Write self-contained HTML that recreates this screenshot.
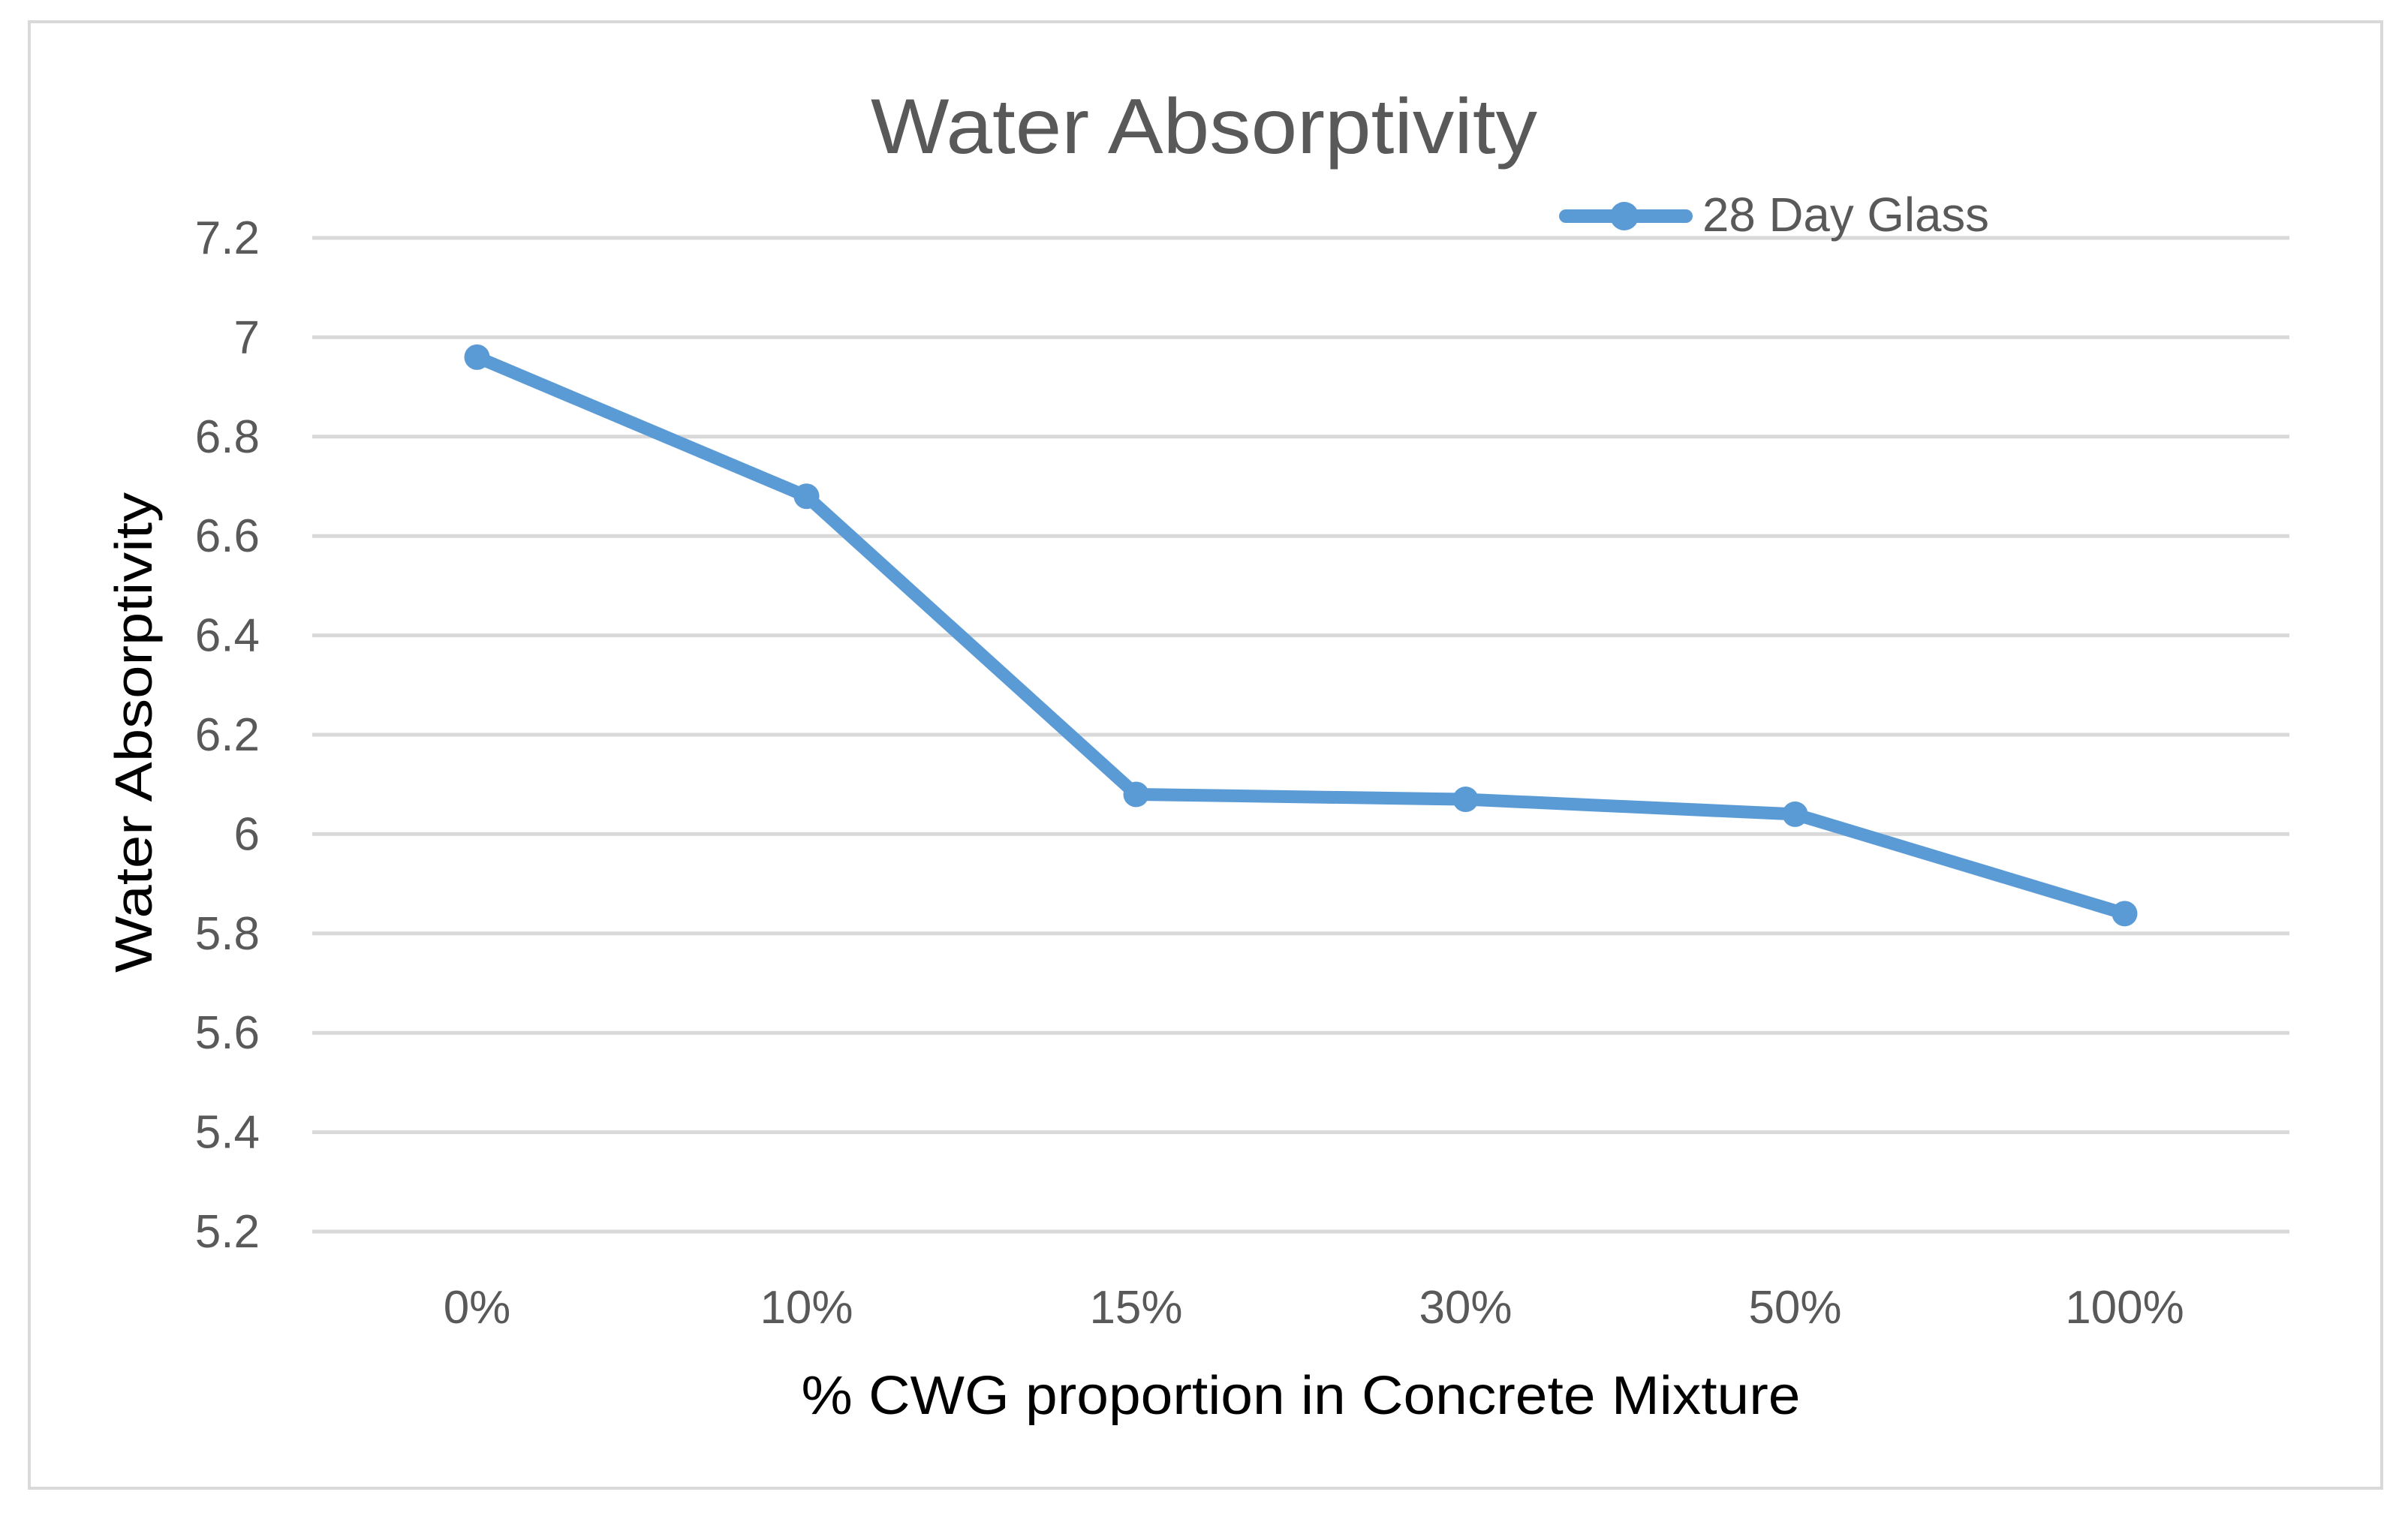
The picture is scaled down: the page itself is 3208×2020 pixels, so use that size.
<!DOCTYPE html>
<html><head><meta charset="utf-8"><style>
html,body{margin:0;padding:0;background:#fff;}
svg{display:block;font-family:"Liberation Sans",sans-serif;}
</style></head><body>
<svg id="chart" width="3208" height="2020" viewBox="0 0 3208 2020" xmlns="http://www.w3.org/2000/svg">
<rect x="39" y="29" width="3134" height="1954" fill="#fff" stroke="#d9d9d9" stroke-width="4"/>
<text x="1604" y="204" text-anchor="middle" font-size="104" fill="#595959" textLength="888" lengthAdjust="spacingAndGlyphs">Water Absorptivity</text>
<g id="grid"></g>
<g id="yticks"></g>
<g id="xticks"></g>
<g id="series"></g>
<text transform="translate(202,976) rotate(-90)" text-anchor="middle" font-size="70" fill="#000" textLength="640" lengthAdjust="spacingAndGlyphs">Water Absorptivity</text>
<text x="1733" y="1884" text-anchor="middle" font-size="72" fill="#000" textLength="1331" lengthAdjust="spacingAndGlyphs">% CWG proportion in Concrete Mixture</text>
<g>
<line x1="2086" y1="288" x2="2246" y2="288" stroke="#5b9bd5" stroke-width="18" stroke-linecap="round"/>
<circle cx="2164" cy="288" r="19" fill="#5b9bd5"/>
<text x="2268" y="308" font-size="64" fill="#595959" textLength="382" lengthAdjust="spacingAndGlyphs">28 Day Glass</text>
</g>
</svg>
<script>
const categories = ["0%","10%","15%","30%","50%","100%"];
const values = [6.96, 6.68, 6.08, 6.07, 6.04, 5.84];
const yTicks = [5.2,5.4,5.6,5.8,6,6.2,6.4,6.6,6.8,7,7.2];
const yTickLabels = ["5.2","5.4","5.6","5.8","6","6.2","6.4","6.6","6.8","7","7.2"];

const NS = "http://www.w3.org/2000/svg";
const plotL = 416, plotR = 3050, plotT = 317, plotB = 1641;
const yMin = 5.2, yMax = 7.2;
function yScale(v){ return plotB - (v - yMin) / (yMax - yMin) * (plotB - plotT); }
function xScale(i){ const w = (plotR - plotL) / categories.length; return plotL + w * (i + 0.5); }
function mk(tag, attrs){ const e = document.createElementNS(NS, tag); for (const k in attrs) e.setAttribute(k, attrs[k]); return e; }

const grid = document.getElementById('grid');
const yt = document.getElementById('yticks');
yTicks.forEach((v, i) => {
  const y = yScale(v);
  const l = mk('line', {x1: plotL, x2: plotR, y1: y, y2: y, stroke: '#d9d9d9', 'stroke-width': 5});
  
  
  grid.appendChild(l);
  const t = mk('text', {x: 346, y: y + 21, 'text-anchor': 'end', 'font-size': 62, fill: '#595959'});
  
  
  t.textContent = yTickLabels[i];
  yt.appendChild(t);
});

const xt = document.getElementById('xticks');
categories.forEach((c, i) => {
  const t = mk('text', {x: xScale(i), y: 1763, 'text-anchor': 'middle', 'font-size': 62, fill: '#595959'});
  
  
  t.textContent = c;
  xt.appendChild(t);
});

const s = document.getElementById('series');
const pts = values.map((v, i) => xScale(i) + ',' + yScale(v)).join(' ');
const pl = mk('polyline', {points: pts, fill: 'none', stroke: '#5b9bd5', 'stroke-width': 17, 'stroke-linejoin': 'round', 'stroke-linecap': 'round'});


s.appendChild(pl);
values.forEach((v, i) => {
  const c = mk('circle', {cx: xScale(i), cy: yScale(v), r: 17, fill: '#5b9bd5'});
  
  
  s.appendChild(c);
});
</script>
</body></html>
